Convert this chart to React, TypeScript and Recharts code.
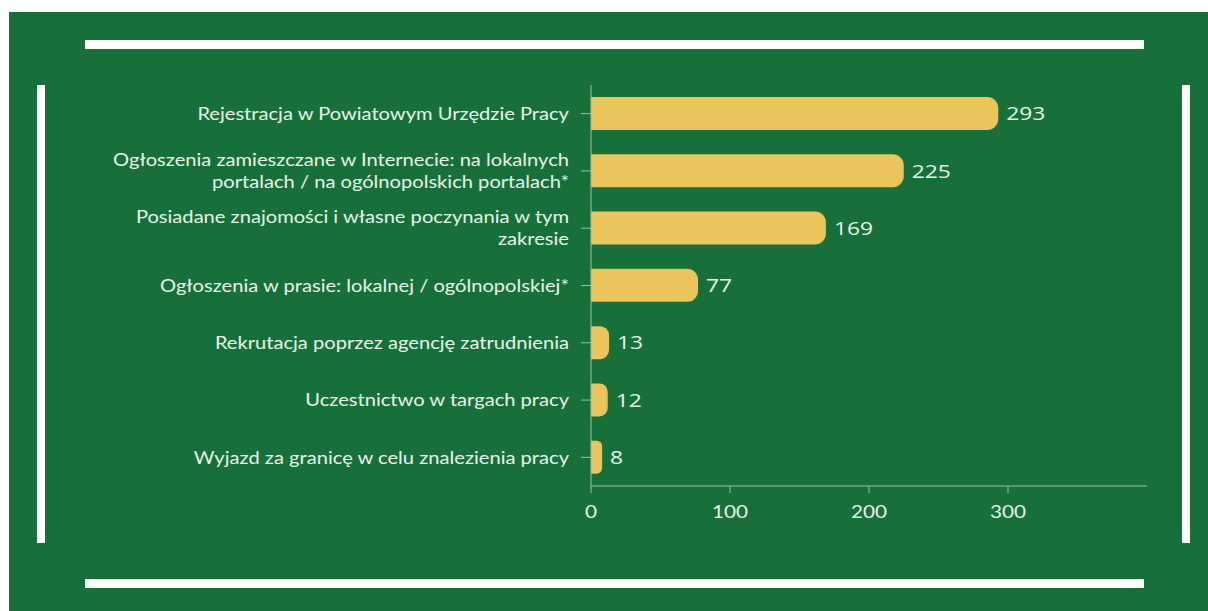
import { BarChart, Bar, XAxis, YAxis, LabelList } from 'recharts';

const categories = [
  'Rejestracja w Powiatowym Urzędzie Pracy',
  'Ogłoszenia zamieszczane w Internecie: na lokalnych portalach / na ogólnopolskich portalach*',
  'Posiadane znajomości i własne poczynania w tym zakresie',
  'Ogłoszenia w prasie: lokalnej / ogólnopolskiej*',
  'Rekrutacja poprzez agencję zatrudnienia',
  'Uczestnictwo w targach pracy',
  'Wyjazd za granicę w celu znalezienia pracy',
];
const counts = [293, 225, 169, 77, 13, 12, 8];
const xTicks = [0, 100, 200, 300];

const GREEN = '#17703a';
const GOLD = '#ebc55b';
const TEXT = '#eaf4ea';
const AXIS = '#9cc2a6';
const STRETCH = 1.15;
const MAX_CHARS = 50;

const data = categories.map((name, i) => ({ name, value: counts[i] }));

function wrap(label: string) {
  const lines: string[] = [];
  let cur = '';
  for (const w of label.split(' ')) {
    const next = cur ? cur + ' ' + w : w;
    if (next.length > MAX_CHARS && cur) {
      lines.push(cur);
      cur = w;
    } else {
      cur = next;
    }
  }
  if (cur) lines.push(cur);
  return lines;
}

// the source picture is a bit wider than tall, so text is stretched horizontally
function CategoryTick(props: any) {
  const { x, y, payload } = props;
  const lines = wrap(payload.value);
  const lh = 22;
  const start = -((lines.length - 1) * lh) / 2;
  return (
    <g transform={`translate(${x},${y}) scale(${STRETCH},1)`}>
      <text textAnchor="end" fill={TEXT} fontSize={17.5} fontFamily="Lato">
        {lines.map((l, i) => (
          <tspan key={i} x={0} y={start + i * lh} dy="0.355em">
            {l}
          </tspan>
        ))}
      </text>
    </g>
  );
}

function NumberTick(props: any) {
  const { x, y, payload } = props;
  return (
    <g transform={`translate(${x},${y}) scale(${STRETCH},1)`}>
      <text x={0} y={0} dy="0.71em" textAnchor="middle" fill={TEXT} fontSize={18} fontFamily="Lato">
        {payload.value}
      </text>
    </g>
  );
}

function ValueLabel(props: any) {
  const { x, y, width, height, value } = props;
  const lx = x + width + 8;
  const ly = y + height / 2;
  return (
    <g transform={`translate(${lx},${ly}) scale(1.2,1)`}>
      <text x={0} y={0} dy="0.36em" textAnchor="start" fill={TEXT} fontSize={19} fontFamily="Open Sans">
        {value}
      </text>
    </g>
  );
}

const whiteBar = (left: number, top: number, width: number, height: number) => (
  <div style={{ position: 'absolute', left, top, width, height, background: '#fff' }} />
);

export default function App() {
  return (
    <div style={{ position: 'fixed', left: 9, top: 12, width: 1199, height: 599, background: GREEN }}>
      {whiteBar(76, 28, 1059, 9)}
      {whiteBar(76, 567, 1059, 9)}
      {whiteBar(28, 73, 8, 458)}
      {whiteBar(1173, 73, 8, 458)}
      <div style={{ position: 'absolute', left: 0, top: 0 }}>
        <BarChart
          width={1199}
          height={599}
          data={data}
          layout="vertical"
          margin={{ top: 73, right: 61, left: 0, bottom: 85 }}
          barSize={33}
        >
          <XAxis
            type="number"
            domain={[0, 400]}
            ticks={xTicks}
            height={40}
            stroke={AXIS}
            tickSize={7}
            tickMargin={12}
            tick={<NumberTick />}
          />
          <YAxis
            type="category"
            dataKey="name"
            width={582}
            stroke={AXIS}
            tickSize={10}
            tickMargin={12}
            tick={<CategoryTick />}
            interval={0}
          />
          <Bar dataKey="value" fill={GOLD} radius={[0, 11, 11, 0]} isAnimationActive={false}>
            <LabelList dataKey="value" content={<ValueLabel />} />
          </Bar>
        </BarChart>
      </div>
    </div>
  );
}
